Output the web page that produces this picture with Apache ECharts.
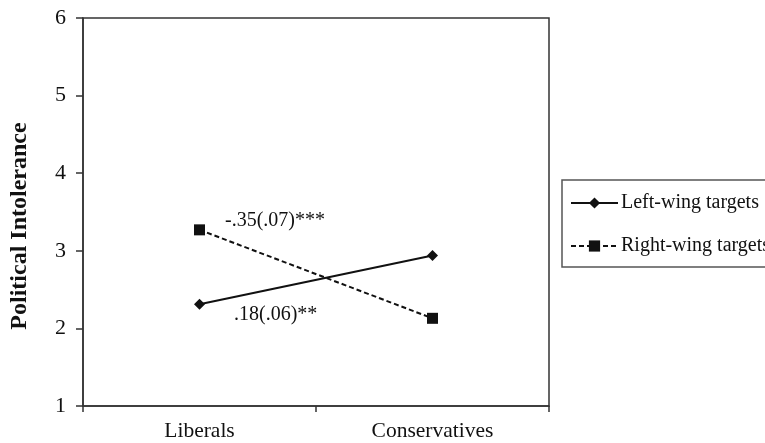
<!DOCTYPE html>
<html><head><meta charset="utf-8">
<script src="https://cdn.jsdelivr.net/npm/echarts@6/dist/echarts.min.js"></script>
<style>html,body{margin:0;padding:0;background:#fff}#c{width:765px;height:443px}</style>
</head><body><div id="c"></div>
<script>
var categories = ['Liberals', 'Conservatives'];
var leftWing = [2.31, 2.94];
var rightWing = [3.27, 2.13];
var leftNote = '.18(.06)**';
var rightNote = '-.35(.07)***';
var yTicks = [1, 2, 3, 4, 5, 6];

var FONT = '"Liberation Serif", "Times New Roman", serif';
var chart = echarts.init(document.getElementById('c'));
chart.setOption({
  animation: false,
  backgroundColor: '#fff',
  grid: { left: 79, right: 216, top: 18, bottom: 37, show: true, borderColor: '#333', borderWidth: 1.5, backgroundColor: 'transparent' },
  legend: {
    left: 562, top: 180, orient: 'vertical',
    padding: [13, 80, 11, 8],
    itemWidth: 47, itemHeight: 14, itemGap: 23,
    borderColor: '#555', borderWidth: 1.5,
    textStyle: { fontFamily: FONT, fontSize: 20, color: '#111', padding: [0, 0, 0, -2] },
    data: ['Left-wing targets', 'Right-wing targets']
  },
  xAxis: {
    type: 'category', data: categories, boundaryGap: true,
    axisLine: { lineStyle: { color: '#333', width: 1.5 } },
    axisTick: { show: true, length: 6, lineStyle: { color: '#333', width: 1.5 } },
    axisLabel: { fontFamily: FONT, fontSize: 21.5, color: '#111', margin: 14 }
  },
  yAxis: {
    type: 'value', min: yTicks[0], max: yTicks[yTicks.length - 1], interval: 1,
    name: 'Political Intolerance', nameLocation: 'middle', nameGap: 51,
    nameTextStyle: { fontFamily: FONT, fontSize: 24, fontWeight: 'bold', color: '#111', padding: [0, 0, 0, -28] },
    splitLine: { show: false },
    axisLine: { show: true, lineStyle: { color: '#333', width: 1.5 } },
    axisTick: { show: true, length: 7, lineStyle: { color: '#333', width: 1.5 } },
    axisLabel: { fontFamily: FONT, fontSize: 22, color: '#111', margin: 17 }
  },
  series: [
    {
      name: 'Left-wing targets', type: 'line',
      data: leftWing.map(function (v, i) {
        var d = { value: v };
        if (i === 0) d.label = { show: true, formatter: leftNote, position: 'right', offset: [24, 10] };
        return d;
      }),
      symbol: 'diamond', symbolSize: 11,
      itemStyle: { color: '#111' },
      lineStyle: { color: '#111', width: 2, type: 'solid' },
      label: { fontFamily: FONT, fontSize: 20, color: '#111' }
    },
    {
      name: 'Right-wing targets', type: 'line',
      data: rightWing.map(function (v, i) {
        var d = { value: v };
        if (i === 0) d.label = { show: true, formatter: rightNote, position: 'right', offset: [15, -9] };
        return d;
      }),
      symbol: 'rect', symbolSize: 11,
      itemStyle: { color: '#111' },
      lineStyle: { color: '#111', width: 2, type: [5, 3] },
      label: { fontFamily: FONT, fontSize: 20, color: '#111' }
    }
  ]
});
</script></body></html>
